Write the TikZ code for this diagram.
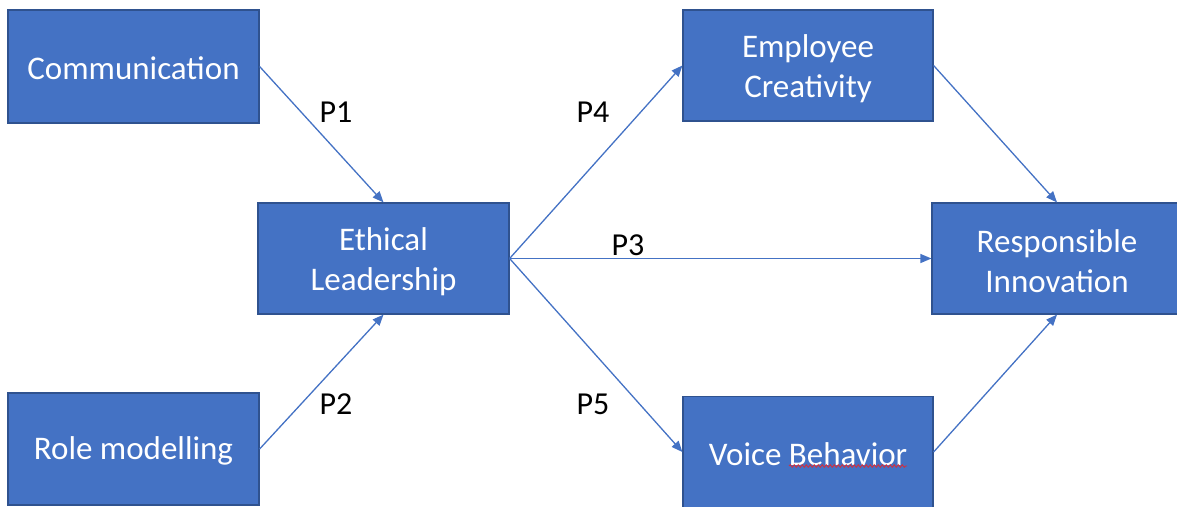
\documentclass[tikz,border=0pt]{standalone}
\usepackage{fontspec}
\setmainfont{Carlito}
\usetikzlibrary{arrows.meta,decorations.pathmorphing}
\definecolor{boxfill}{HTML}{4472C4}
\definecolor{boxline}{HTML}{2F528F}
\definecolor{linkcol}{HTML}{4472C4}
\definecolor{spellred}{HTML}{D03040}
\tikzset{
  concept/.style={draw=boxline, line width=1.2pt, fill=boxfill, inner sep=0pt},
  concepttext/.style={text=white, font=\fontsize{33}{40}\selectfont,
    align=center, inner sep=0pt},
  link/.style={draw=linkcol, line width=1.3pt,
    -{Triangle[length=11pt,width=9pt]}},
  plabel/.style={font=\fontsize{32}{38}\selectfont, text=black},
  spellmark/.style={draw=spellred, line width=0.9pt,
    decorate, decoration={snake, amplitude=1.3pt, segment length=4pt}}
}
\begin{document}
\begin{tikzpicture}[x=1pt,y=-1pt]
\useasboundingbox (0,0) rectangle (1177,506);
\clip (0,0) rectangle (1177,506);

% construct boxes
\node[concept, minimum width=251pt, minimum height=113pt] (comm) at (133.5,66.5) {};
\node[concept, minimum width=251pt, minimum height=112pt] (role) at (133.5,449) {};
\node[concept, minimum width=251pt, minimum height=111pt] (eth) at (383.5,258.5) {};
\node[concept, minimum width=250pt, minimum height=111pt] (crea) at (808,65.5) {};
\node[concept, minimum width=250pt, minimum height=111pt] (voice) at (808,452) {};
\node[concept, minimum width=250pt, minimum height=111pt] (resp) at (1057,258.5) {};

% box captions, set slightly below the box centres
\node[concepttext] (commtxt) at ([yshift=-2pt]comm.center) {Communication};
\node[concepttext] (roletxt) at ([yshift=-2pt]role.center) {Role modelling};
\node[concepttext] (ethtxt) at ([yshift=-3pt]eth.center) {Ethical\\Leadership};
\node[concepttext] (creatxt) at ([yshift=-3pt]crea.center) {Employee\\Creativity};
\node[concepttext] (voicetxt) at ([yshift=-2pt]voice.center) {Voice Behavior};
\node[concepttext] (resptxt) at ([yshift=-3pt]resp.center) {Responsible\\Innovation};

% wavy spelling mark under "Behavior"
\coordinate (wavea) at ([xshift=-19pt,yshift=-14pt]voice.center);
\coordinate (waveb) at ([xshift=99pt,yshift=-14pt]voice.center);
\draw[spellmark] (wavea) -- (waveb);

% propositions
\draw[link] (comm.east) -- (eth.north);
\draw[link] (role.east) -- (eth.south);
\draw[link] (eth.east) -- (crea.west);
\draw[link] (eth.east) -- (resp.west);
\draw[link] (eth.east) -- (voice.west);
\draw[link] (crea.east) -- (resp.north);
\draw[link] (voice.east) -- (resp.south);

% proposition labels
\node[plabel] (p1) at (336,112) {P1};
\node[plabel] (p2) at (336,404) {P2};
\node[plabel] (p3) at (628,245) {P3};
\node[plabel] (p4) at (593,112) {P4};
\node[plabel] (p5) at (593,404) {P5};
\end{tikzpicture}
\end{document}
